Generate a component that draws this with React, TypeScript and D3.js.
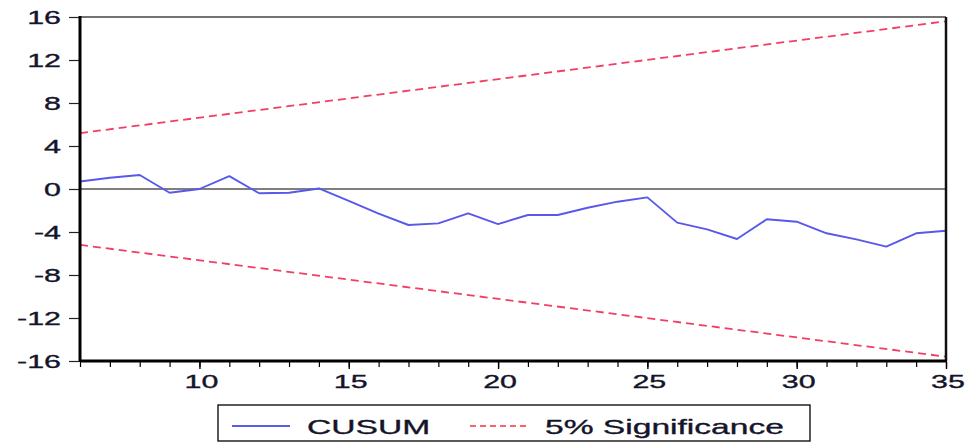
import React, { useRef, useEffect } from "react";
import * as d3 from "d3";

// CUSUM recursive residual values, one per observation
const obs = [6, 7, 8, 9, 10, 11, 12, 13, 14, 15, 16, 17, 18, 19, 20, 21, 22, 23, 24, 25, 26, 27, 28, 29, 30, 31, 32, 33, 34, 35];
const cusum = [0.7, 1.05, 1.3, -0.35, 0.0, 1.2, -0.4, -0.35, 0.05, -1.1, -2.3, -3.35, -3.2, -2.26, -3.26, -2.42, -2.42, -1.74, -1.18, -0.78, -3.13, -3.75, -4.65, -2.82, -3.04, -4.12, -4.68, -5.36, -4.12, -3.88];

// 5% significance bounds (straight lines, read at both ends)
const boundObs = [6, 35];
const upperBound = [5.2, 15.6];
const lowerBound = [-5.2, -15.6];

const yTicks = [-16, -12, -8, -4, 0, 4, 8, 12, 16];
const xMajorTicks = [10, 15, 20, 25, 30, 35];

const W = 965;
const H = 444;
const STRETCH = 1.6; // the reference text is stretched horizontally

const App = () => {
  const svgRef = useRef(null);

  useEffect(() => {
    const svg = d3.select(svgRef.current);
    svg.selectAll("*").remove();

    const left = 80, right = 946, top = 17, bottom = 361;

    const x = d3.scaleLinear().domain([6, 35]).range([left, right]);
    const y = d3.scaleLinear().domain([-16, 16]).range([bottom, top]);

    svg.append("rect").attr("width", W).attr("height", H).attr("fill", "#fff");

    // zero line
    svg
      .append("line")
      .attr("x1", left)
      .attr("x2", right)
      .attr("y1", y(0))
      .attr("y2", y(0))
      .attr("stroke", "#000")
      .attr("stroke-width", 1.2);

    const line = d3
      .line()
      .x((d) => x(d[0]))
      .y((d) => y(d[1]));

    // significance bounds
    [upperBound, lowerBound].forEach((b) => {
      svg
        .append("path")
        .attr("d", line(boundObs.map((o, i) => [o, b[i]])))
        .attr("fill", "none")
        .attr("stroke", "#f23e66")
        .attr("stroke-width", 1.8)
        .attr("stroke-dasharray", "8,5");
    });

    // CUSUM
    svg
      .append("path")
      .attr("d", line(obs.map((o, i) => [o, cusum[i]])))
      .attr("fill", "none")
      .attr("stroke", "#5858ea")
      .attr("stroke-width", 1.9)
      .attr("stroke-linejoin", "round");

    // frame
    svg
      .append("line")
      .attr("x1", left)
      .attr("x2", right)
      .attr("y1", top)
      .attr("y2", top)
      .attr("stroke", "#444")
      .attr("stroke-width", 1.5);
    svg
      .append("line")
      .attr("x1", right)
      .attr("x2", right)
      .attr("y1", top)
      .attr("y2", bottom)
      .attr("stroke", "#111")
      .attr("stroke-width", 2.5);
    svg
      .append("line")
      .attr("x1", left)
      .attr("x2", left)
      .attr("y1", top - 1)
      .attr("y2", bottom + 1)
      .attr("stroke", "#000")
      .attr("stroke-width", 3);
    svg
      .append("line")
      .attr("x1", left)
      .attr("x2", right + 1)
      .attr("y1", bottom)
      .attr("y2", bottom)
      .attr("stroke", "#000")
      .attr("stroke-width", 3);

    // y ticks
    const yAxis = svg
      .append("g")
      .attr("transform", `translate(${left - 1},0)`)
      .call(d3.axisLeft(y).tickValues(yTicks).tickSize(10).tickFormat(() => ""));
    yAxis.select(".domain").remove();
    yAxis.selectAll("line").attr("stroke", "#222").attr("stroke-width", 1.2);

    // x ticks: minor at every observation, longer at labels
    const xMinor = svg
      .append("g")
      .attr("transform", `translate(0,${bottom + 1})`)
      .call(d3.axisBottom(x).tickValues(obs).tickSize(5).tickFormat(() => ""));
    xMinor.select(".domain").remove();
    xMinor.selectAll("line").attr("stroke", "#000").attr("stroke-width", 1.2);

    const xMajor = svg
      .append("g")
      .attr("transform", `translate(0,${bottom + 1})`)
      .call(d3.axisBottom(x).tickValues(xMajorTicks).tickSize(7).tickFormat(() => ""));
    xMajor.select(".domain").remove();
    xMajor.selectAll("line").attr("stroke", "#000").attr("stroke-width", 1.4);

    const font = "'Liberation Sans', Arial, sans-serif";
    const textColor = "#14142a";

    svg
      .selectAll(".ylab")
      .data(yTicks)
      .join("text")
      .attr("class", "ylab")
      .attr("transform", (d) => `translate(61,${y(d) + 6.5}) scale(${STRETCH},1)`)
      .attr("text-anchor", "end")
      .attr("font-family", font)
      .attr("font-size", 19)
      .attr("fill", textColor)
      .attr("stroke", textColor)
      .attr("stroke-width", 0.35)
      .text((d) => String(d));

    svg
      .selectAll(".xlab")
      .data(xMajorTicks)
      .join("text")
      .attr("class", "xlab")
      .attr("transform", (d) => `translate(${x(d) + 2},388) scale(${STRETCH},1)`)
      .attr("text-anchor", "middle")
      .attr("font-family", font)
      .attr("font-size", 19)
      .attr("fill", textColor)
      .attr("stroke", textColor)
      .attr("stroke-width", 0.35)
      .text((d) => String(d));

    // legend
    const lg = svg.append("g");
    lg.append("rect")
      .attr("x", 218)
      .attr("y", 405)
      .attr("width", 592)
      .attr("height", 36)
      .attr("fill", "#fff")
      .attr("stroke", "#000")
      .attr("stroke-width", 1.3);
    lg.append("line")
      .attr("x1", 232)
      .attr("x2", 290)
      .attr("y1", 426)
      .attr("y2", 426)
      .attr("stroke", "#2424dc")
      .attr("stroke-width", 1.6);
    lg.append("text")
      .attr("transform", `translate(307,434) scale(${STRETCH},1)`)
      .attr("font-family", font)
      .attr("font-size", 21)
      .attr("fill", textColor)
      .attr("stroke", textColor)
      .attr("stroke-width", 0.35)
      .text("CUSUM");
    lg.append("line")
      .attr("x1", 470)
      .attr("x2", 528)
      .attr("y1", 426)
      .attr("y2", 426)
      .attr("stroke", "#f5303c")
      .attr("stroke-width", 1.6)
      .attr("stroke-dasharray", "6,4");
    lg.append("text")
      .attr("transform", `translate(545,434) scale(${STRETCH},1)`)
      .attr("font-family", font)
      .attr("font-size", 21)
      .attr("fill", textColor)
      .attr("stroke", textColor)
      .attr("stroke-width", 0.35)
      .text("5% Significance");
  }, []);

  return (
    <svg
      ref={svgRef}
      width={W}
      height={H}
      style={{ position: "absolute", left: 0, top: 0 }}
    ></svg>
  );
};

export default App;
